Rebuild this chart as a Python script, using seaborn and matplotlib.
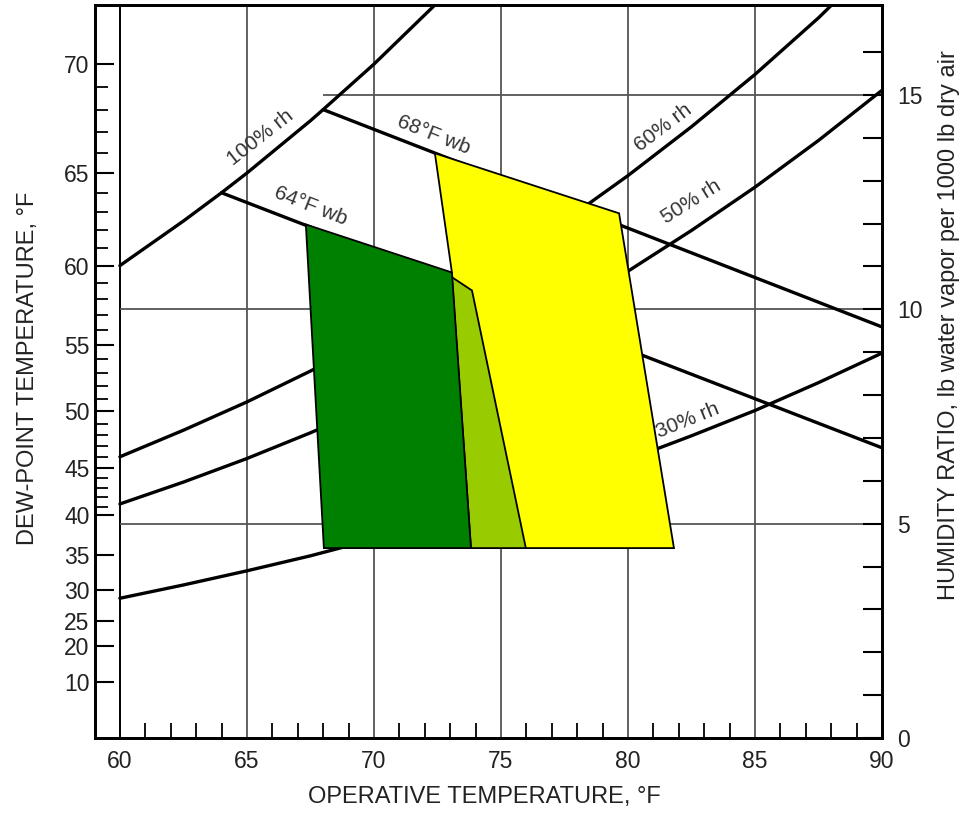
import numpy as np
import pandas as pd
import seaborn as sns
import matplotlib.pyplot as plt

# Psychrometric comfort chart: operative temperature (F) vs humidity ratio (lb / 1000 lb)
rh100_t = [60, 62.5, 64, 65, 67.5, 68, 70, 72.4]
rh100_w = [11.02, 12.06, 12.72, 13.18, 14.40, 14.66, 15.72, 17.10]
rh60_t = [60, 62.5, 65, 67.5, 70, 72.5, 75, 77.5, 80, 82.5, 85, 87.5, 88.0]
rh60_w = [6.56, 7.18, 7.84, 8.56, 9.34, 10.18, 11.09, 12.06, 13.12, 14.26, 15.48, 16.80, 17.09]
rh50_t = [60, 62.5, 65, 67.5, 70, 72.5, 75, 77.5, 80, 82.5, 85, 87.5, 90]
rh50_w = [5.46, 5.97, 6.52, 7.12, 7.76, 8.46, 9.21, 10.02, 10.89, 11.84, 12.85, 13.94, 15.11]
rh30_t = [60, 62.5, 65, 67.5, 70, 72.5, 75, 77.5, 80, 82.5, 85, 87.5, 90]
rh30_w = [3.26, 3.57, 3.90, 4.25, 4.64, 5.05, 5.49, 5.97, 6.49, 7.05, 7.64, 8.29, 8.98]
wb64_t = [64, 90]
wb64_w = [12.72, 6.77]
wb68_t = [68, 90]
wb68_w = [14.66, 9.59]

# comfort zones
zone10_t = [67.32, 73.07, 73.82, 68.03]
zone10_w = [11.98, 10.86, 4.43, 4.43]
overlap_t = [73.07, 73.86, 75.98, 73.82]
overlap_w = [10.75, 10.44, 4.43, 4.43]
zone05_t = [72.40, 79.65, 81.81, 73.82, 73.07]
zone05_w = [13.64, 12.24, 4.43, 4.43, 10.86]

curve_labels = ['100% rh', '68°F wb', '64°F wb', '60% rh', '50% rh', '30% rh']
label_t = [65.55, 72.35, 67.5, 81.4, 82.5, 82.35]
label_w = [14.0, 14.08, 12.42, 14.25, 12.5, 7.4]
label_rot = [38, -21.5, -21.5, 37, 32, 22]

dp_major = [10, 20, 25, 30, 35, 40, 45, 50, 55, 60, 65, 70]
dp_minor = [d for d in range(41, 70) if d % 5]
w_major = [0, 5, 10, 15]


def w_from_dp(td_f):
    # dew point (F) -> humidity ratio (lb/1000 lb) at sea level, used for the left scale
    t = (np.asarray(td_f, dtype=float) - 32) / 1.8
    e = np.where(t >= 0,
                 6.112 * np.exp(17.62 * t / (243.12 + t)),
                 6.112 * np.exp(22.46 * t / (272.62 + t)))
    return 622 * e / (1013.25 - e)


sns.set_theme(style="white")
plt.rcParams['font.family'] = ['Liberation Sans', 'DejaVu Sans']
txt = '#222222'

fig = plt.figure(figsize=(9.64, 8.14), dpi=100)
ax = fig.add_axes([95/964, 1-738/814, (882-95)/964, (738-5)/814])
ax.set_xlim(59.02, 90)
ax.set_ylim(0, 17.1)

# grid
ax.axvline(60, color='black', lw=1.4, zorder=1)
for x in [65, 70, 75, 80, 85]:
    ax.axvline(x, color='#555555', lw=1.3, zorder=1)
ax.hlines([5, 10], 60, 90, color='#555555', lw=1.3, zorder=1)
ax.hlines(15, 68, 90, color='#555555', lw=1.3, zorder=1)

# rh and wet-bulb lines
for tt, ww in [(rh100_t, rh100_w), (rh60_t, rh60_w), (rh50_t, rh50_w),
               (rh30_t, rh30_w), (wb64_t, wb64_w), (wb68_t, wb68_w)]:
    df = pd.DataFrame({'t': tt, 'w': ww})
    sns.lineplot(data=df, x='t', y='w', ax=ax, color='black', lw=2.4,
                 sort=False, estimator=None, zorder=2)

# zones
ax.fill(zone05_t, zone05_w, facecolor='#ffff00', edgecolor='black', lw=1.3, zorder=3)
ax.fill(overlap_t, overlap_w, facecolor='#99cc00', edgecolor='black', lw=1.3, zorder=4)
ax.fill(zone10_t, zone10_w, facecolor='#008000', edgecolor='black', lw=1.3, zorder=5)

for s, x, y, r in zip(curve_labels, label_t, label_w, label_rot):
    ax.text(x, y, s, rotation=r, ha='center', va='center', fontsize=15,
            color='#333333', rotation_mode='anchor', zorder=6)

# bottom axis
ax.set_xticks([60, 65, 70, 75, 80, 85, 90])
ax.set_xticks([d for d in range(61, 90) if d % 5], minor=True)
ax.tick_params(axis='x', which='major', length=0, pad=9, labelsize=16.5, labelcolor=txt)
ax.tick_params(axis='x', which='minor', direction='in', length=11, width=1.3,
               color='black', bottom=True)

# left axis: dew point scale
ax.set_yticks(w_from_dp(dp_major), [str(d) for d in dp_major])
ax.set_yticks(w_from_dp(dp_minor), minor=True)
ax.tick_params(axis='y', which='major', direction='in', length=14, width=1.5,
               color='black', pad=4, labelsize=16.5, labelcolor=txt, left=True)
ax.tick_params(axis='y', which='minor', direction='in', length=9, width=1.3,
               color='black', left=True)
ax.set_xlabel('')
ax.set_ylabel('')

# right axis: humidity ratio
ax2 = ax.twinx()
ax2.set_ylim(ax.get_ylim())
ax2.set_yticks(w_major)
ax2.set_yticks(range(1, 17), minor=True)
ax2.tick_params(axis='y', which='both', direction='in', length=14, width=1.5,
                color='black', right=True)
ax2.tick_params(axis='y', which='major', pad=11, labelsize=16.5, labelcolor=txt)
ax2.grid(False)

for a in (ax, ax2):
    for sp in a.spines.values():
        sp.set_color('black')
        sp.set_linewidth(2)

fig.text(484/964, 1-797/814, 'OPERATIVE TEMPERATURE, °F', ha='center', va='center',
         fontsize=17, color=txt)
fig.text(28/964, 1-368/814, 'DEW-POINT TEMPERATURE, °F', ha='center', va='center',
         rotation=90, fontsize=17, color=txt)
fig.text(949/964, 1-325/814, 'HUMIDITY RATIO, lb water vapor per 1000 lb dry air',
         ha='center', va='center', rotation=90, fontsize=17, color=txt)

fig.savefig('out.png', dpi=100)
